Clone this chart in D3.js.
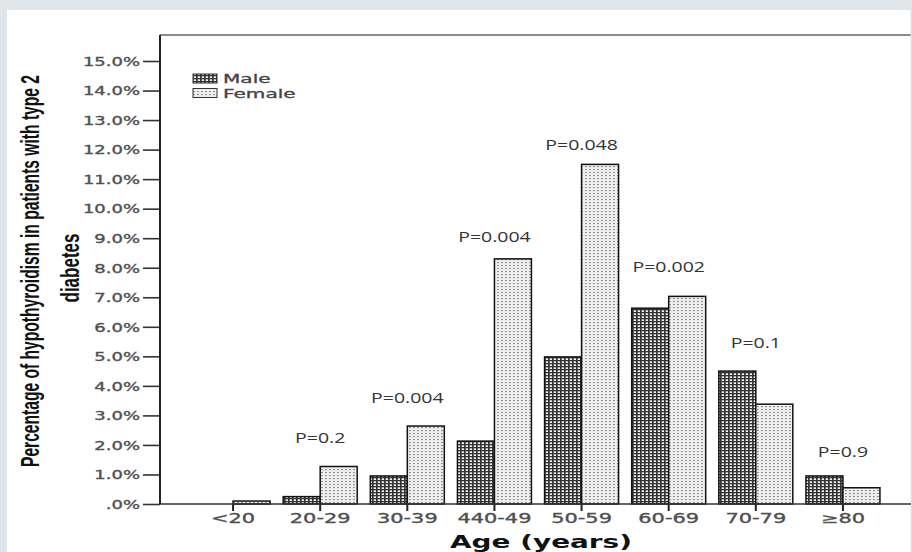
<!DOCTYPE html>
<html>
<head>
<meta charset="utf-8">
<script src="https://cdn.jsdelivr.net/npm/d3@7"></script>
<style>
  body { margin: 0; background: #e2e6e8; }
  svg { display: block; }
</style>
</head>
<body>
<svg id="chart" width="912" height="552"></svg>
<script>
// age groups on the x axis
const ageGroups = ['<20', '20-29', '30-39', '440-49', '50-59', '60-69', '70-79', '≥80'];
const seriesNames = ['Male', 'Female'];

// percentage with hypothyroidism
const maleValues = [0, 0.25, 0.95, 2.13, 4.98, 6.63, 4.5, 0.95];
const femaleValues = [0.1, 1.27, 2.64, 8.3, 11.5, 7.03, 3.38, 0.55];

// p-value annotations and the level (in %) they sit at
const pLabels = [null, 'P=0.2', 'P=0.004', 'P=0.004', 'P=0.048', 'P=0.002', 'P=0.1', 'P=0.9'];
const pLabelLevels = [null, 2.24, 3.59, 9.04, 12.16, 8.03, 5.45, 1.76];

const yTicks = d3.range(0, 16);

const svg = d3.select('#chart');

// white panel
svg.append('rect')
  .attr('x', 7).attr('y', 10)
  .attr('width', 904).attr('height', 542)
  .attr('fill', '#fff');

// patterns
const defs = svg.append('defs');
const male = defs.append('pattern')
  .attr('id', 'pat-male')
  .attr('patternUnits', 'userSpaceOnUse')
  .attr('width', 4).attr('height', 3);
male.append('rect').attr('width', 4).attr('height', 3).attr('fill', '#f4f4f4');
male.append('rect').attr('width', 1.7).attr('height', 3).attr('fill', '#333');
male.append('rect').attr('width', 4).attr('height', 1.3).attr('fill', '#333');

const female = defs.append('pattern')
  .attr('id', 'pat-female')
  .attr('patternUnits', 'userSpaceOnUse')
  .attr('width', 4).attr('height', 3);
female.append('rect').attr('width', 4).attr('height', 3).attr('fill', '#eeeeee');
female.append('rect').attr('x', 1).attr('y', 1).attr('width', 1.8).attr('height', 1.1).attr('fill', '#8a8a8a');

const fills = { Male: 'url(#pat-male)', Female: 'url(#pat-female)' };

const plotLeft = 160, plotRight = 911, plotTop = 35, plotBottom = 504;

const x = d3.scaleBand()
  .domain(ageGroups)
  .range([189.5, 886.5]);

const xSub = d3.scaleBand()
  .domain(seriesNames)
  .range([0, 74]);

const y = d3.scaleLinear()
  .domain([0, 15])
  .range([plotBottom, 61]);

// frame lines
svg.append('line')
  .attr('x1', plotLeft).attr('x2', plotRight)
  .attr('y1', plotTop).attr('y2', plotTop)
  .attr('stroke', '#8a8a8a').attr('stroke-width', 2);
svg.append('line')
  .attr('x1', plotRight).attr('x2', plotRight)
  .attr('y1', 10).attr('y2', 552)
  .attr('stroke', '#d8dcde').attr('stroke-width', 1);

// y axis
const sy = 1.5;
const yAxis = svg.append('g')
  .attr('transform', `translate(${plotLeft},0)`)
  .call(d3.axisLeft(y)
    .tickValues(yTicks)
    .tickSize(17)
    .tickSizeOuter(0)
    .tickFormat(d => d === 0 ? '.0%' : d.toFixed(1) + '%'));
yAxis.select('.domain').remove();
yAxis.selectAll('.tick line').attr('stroke', '#333').attr('stroke-width', 1.6);
yAxis.selectAll('.tick text')
  .attr('x', -20 / sy)
  .attr('dy', '0.36em')
  .attr('transform', `scale(${sy},1)`)
  .attr('fill', '#505050')
  .attr('stroke', '#505050')
  .attr('stroke-width', 0.35)
  .style('font-family', 'DejaVu Sans')
  .style('font-size', '12px');

// bars
const rows = ageGroups.map((g, i) => ({ group: g, Male: maleValues[i], Female: femaleValues[i] }));
const barG = svg.append('g');
seriesNames.forEach(s => {
  barG.selectAll(null)
    .data(rows)
    .enter()
    .append('rect')
    .attr('x', d => x(d.group) + x.bandwidth() / 2 - 37 + xSub(s))
    .attr('y', d => y(d[s]))
    .attr('width', xSub.bandwidth())
    .attr('height', d => plotBottom - y(d[s]))
    .attr('fill', fills[s])
    .attr('stroke', d => d[s] > 0 ? '#111' : 'none')
    .attr('stroke-width', 1.5);
});

// x axis
const sx = 1.55;
const xAxis = svg.append('g')
  .attr('transform', `translate(0,${plotBottom})`)
  .call(d3.axisBottom(x).tickSize(7).tickSizeOuter(0));
xAxis.select('.domain').remove();
xAxis.selectAll('.tick line').attr('stroke', '#222').attr('stroke-width', 2);
xAxis.selectAll('.tick text')
  .attr('y', 19)
  .attr('dy', 0)
  .attr('transform', `scale(${sx},1)`)
  .attr('fill', '#505050')
  .attr('stroke', '#505050')
  .attr('stroke-width', 0.35)
  .style('font-family', 'DejaVu Sans')
  .style('font-size', '13.5px');

// axis lines on top of bars
svg.append('line')
  .attr('x1', plotLeft).attr('x2', plotRight)
  .attr('y1', plotBottom).attr('y2', plotBottom)
  .attr('stroke', '#333').attr('stroke-width', 1.6);
svg.append('line')
  .attr('x1', plotLeft).attr('x2', plotLeft)
  .attr('y1', plotTop).attr('y2', plotBottom)
  .attr('stroke', '#222').attr('stroke-width', 2);

// p-value labels
const sp = 1.3;
pLabels.forEach((t, i) => {
  if (!t) return;
  svg.append('text')
    .attr('transform', `translate(${x(ageGroups[i]) + x.bandwidth() / 2},${y(pLabelLevels[i])}) scale(${sp},1)`)
    .attr('text-anchor', 'middle')
    .attr('dy', '0.36em')
    .attr('fill', '#333')
    .style('font-family', 'Open Sans')
    .style('font-size', '15px')
    .text(t);
});

// legend
const sl = 1.75;
seriesNames.forEach((s, i) => {
  const ly = 74 + i * 14.5;
  svg.append('rect')
    .attr('x', 193).attr('y', ly)
    .attr('width', 24).attr('height', 9)
    .attr('fill', fills[s])
    .attr('stroke', '#333').attr('stroke-width', 1);
  svg.append('text')
    .attr('transform', `translate(223,${ly + 9}) scale(${sl},1)`)
    .attr('fill', '#444')
    .attr('stroke', '#444')
    .attr('stroke-width', 0.3)
    .style('font-family', 'DejaVu Sans')
    .style('font-size', '11.5px')
    .text(s);
});

// x title
svg.append('text')
  .attr('transform', `translate(541,548) scale(1.55,1)`)
  .attr('text-anchor', 'middle')
  .attr('fill', '#111')
  .style('font-family', 'DejaVu Sans')
  .style('font-weight', 'bold')
  .style('font-size', '18px')
  .text('Age (years)');

// y title, condensed bold, stretched like the rest of the picture
const yTitle = [
  { text: 'Percentage of hypothyroidism in patients with type 2', bx: 39, cy: 271, len: 392 },
  { text: 'diabetes', bx: 79, cy: 268, len: 69 }
];
yTitle.forEach(l => {
  svg.append('text')
    .attr('transform', `translate(${l.bx},${l.cy}) scale(1.65,1) rotate(-90)`)
    .attr('text-anchor', 'middle')
    .attr('textLength', l.len)
    .attr('lengthAdjust', 'spacingAndGlyphs')
    .attr('fill', '#111')
    .style('font-family', '"Liberation Sans Narrow", "Liberation Sans", sans-serif')
    .style('font-weight', 'bold')
    .style('font-size', '16px')
    .text(l.text);
});
</script>
</body>
</html>
